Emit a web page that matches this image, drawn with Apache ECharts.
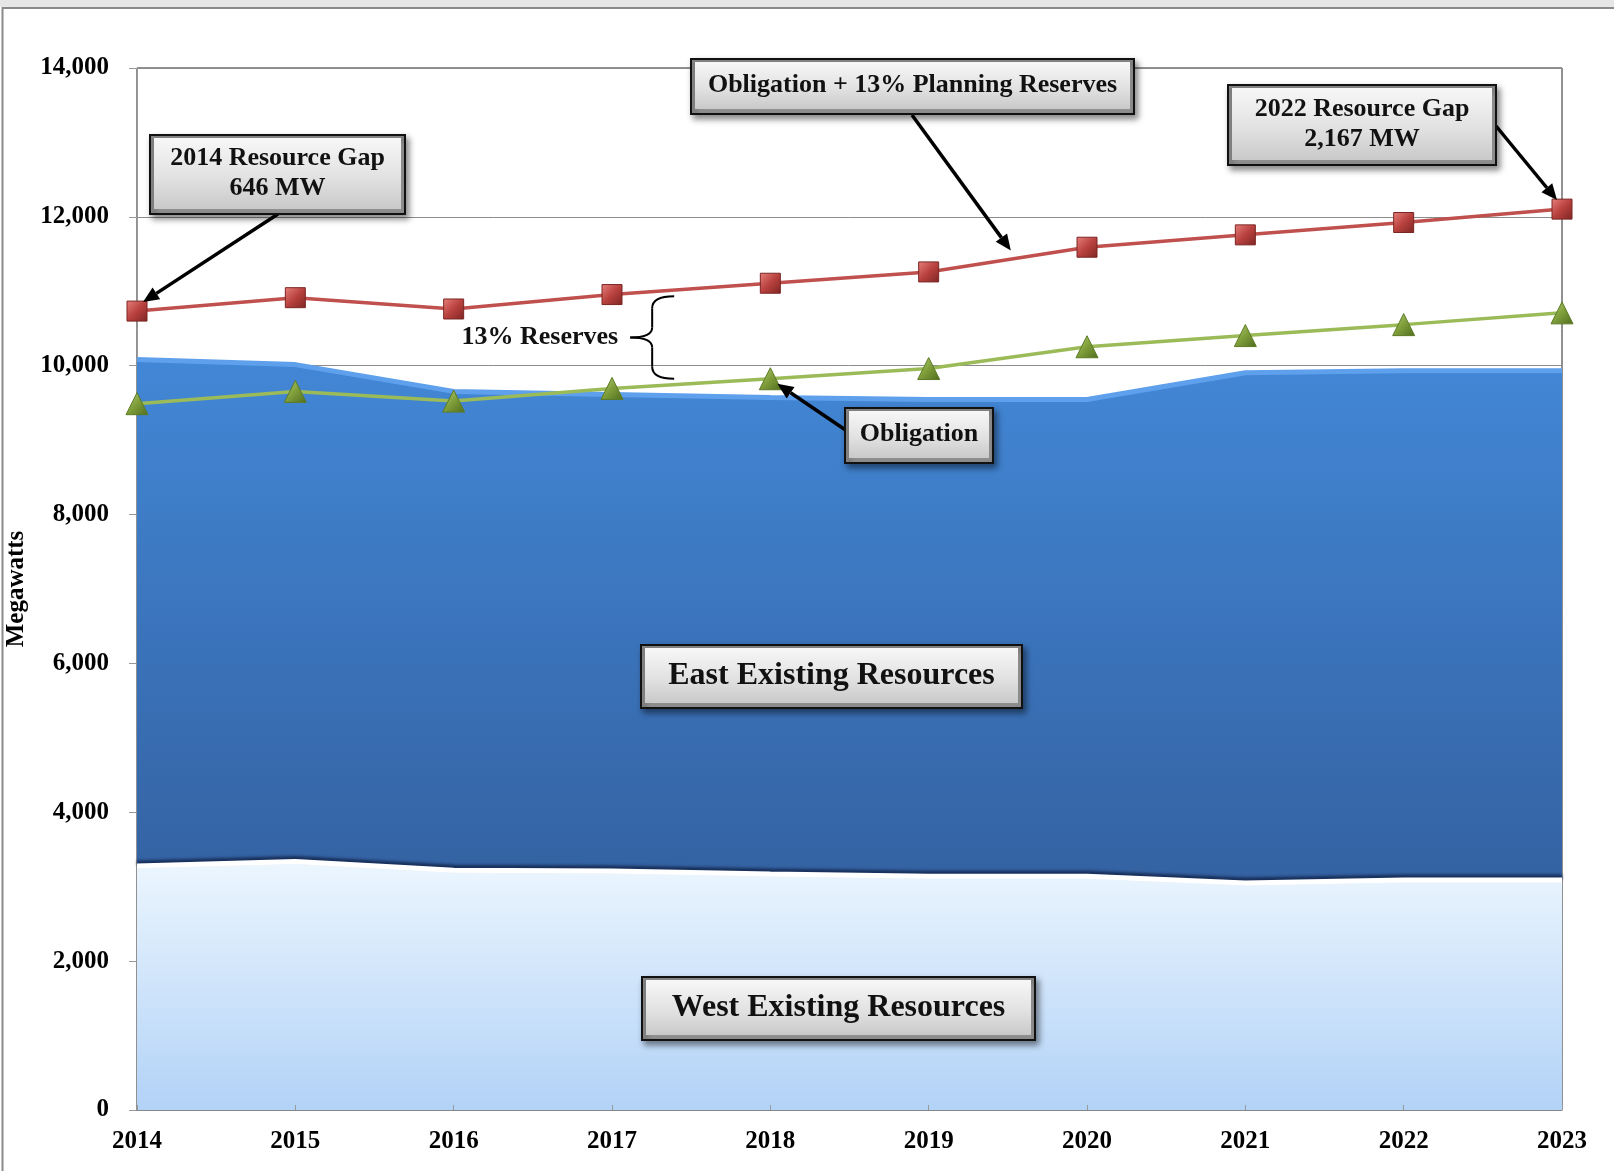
<!DOCTYPE html>
<html>
<head>
<meta charset="utf-8">
<script src="https://cdn.jsdelivr.net/npm/echarts@6/dist/echarts.min.js"></script>
<style>
html,body{margin:0;padding:0;background:#fff;}
#chart{width:1614px;height:1171px;}
</style>
</head>
<body>
<div id="chart"></div>
<script>
// ---- Data ----
const years = ['2014','2015','2016','2017','2018','2019','2020','2021','2022','2023'];
const westExisting = [3280, 3340, 3220, 3210, 3170, 3140, 3140, 3050, 3090, 3090];
const eastExisting = [6805, 6675, 6435, 6404, 6402, 6405, 6405, 6855, 6842, 6842];
const obligation = [9490, 9655, 9525, 9695, 9825, 9962, 10255, 10405, 10552, 10710];
const obligationPlusReserves = [10734, 10914, 10762, 10956, 11108, 11260, 11592, 11758, 11924, 12104];
const yMin = 0, yMax = 14000, yStep = 2000;

const FONT = 'Liberation Serif';
const chart = echarts.init(document.getElementById('chart'));
const LG = echarts.graphic.LinearGradient;

const option = {
  animation: false,
  backgroundColor: '#fff',
  grid: { left: 137, right: 52, top: 68, bottom: 61, show: true, borderColor: '#222', borderWidth: 1,
    containLabel: false, outerBoundsMode: 'none' },
  xAxis: {
    type: 'category', data: years, boundaryGap: false,
    axisLine: { lineStyle: { color: '#888', width: 1 } },
    axisTick: { show: true, inside: true, length: 5, lineStyle: { color: '#999' } },
    axisLabel: { fontFamily: FONT, fontWeight: 'bold', fontSize: 25, color: '#000', margin: 19 },
    splitLine: { show: false },
    z: 5
  },
  yAxis: {
    type: 'value', min: yMin, max: yMax, interval: yStep,
    name: 'Megawatts', nameLocation: 'middle', nameGap: 97, nameRotate: 90,
    nameTextStyle: { fontFamily: FONT, fontWeight: 'bold', fontSize: 25, color: '#000' },
    axisLine: { show: true, lineStyle: { color: '#999' } },
    axisTick: { show: true, length: 8, lineStyle: { color: '#999' } },
    axisLabel: { fontFamily: FONT, fontWeight: 'bold', fontSize: 25, color: '#000', margin: 28,
      formatter: v => v.toLocaleString('en-US') },
    splitLine: { show: true, lineStyle: { color: '#8c8c8c', width: 1 } }
  },
  series: [
    {
      name: 'West Existing Resources', type: 'line', stack: 'res', data: westExisting,
      symbol: 'none', z: 2,
      lineStyle: { color: '#ffffff', width: 5, shadowColor: 'rgba(20,40,80,0.9)', shadowBlur: 3, shadowOffsetY: -3 },
      areaStyle: { opacity: 1, color: new LG(0, 0, 0, 1, [
        { offset: 0, color: '#ecf6fe' }, { offset: 1, color: '#b2d2f7' }]) }
    },
    {
      name: 'East Existing Resources', type: 'line', stack: 'res', data: eastExisting,
      symbol: 'none', z: 1,
      lineStyle: { color: '#5fa0ec', width: 5 },
      areaStyle: { opacity: 1, color: new LG(0, 0, 0, 1, [
        { offset: 0, color: '#4287d6' }, { offset: 1, color: '#3462a2' }]) }
    },
    {
      name: 'Obligation', type: 'line', data: obligation, z: 4,
      symbol: 'triangle', symbolSize: [22, 22],
      lineStyle: { color: '#9bbb59', width: 3.5 },
      itemStyle: { color: new LG(0, 0, 1, 1, [
        { offset: 0, color: '#b2cf78' }, { offset: 0.5, color: '#7f9e3a' }, { offset: 1, color: '#4f6b1e' }]),
        borderColor: '#5c7a25', borderWidth: 1 }
    },
    {
      name: 'Obligation + 13% Planning Reserves', type: 'line', data: obligationPlusReserves, z: 4,
      symbol: 'rect', symbolSize: [20, 20],
      lineStyle: { color: '#c0504d', width: 3.5 },
      itemStyle: { color: new LG(0, 0, 1, 1, [
        { offset: 0, color: '#e8807c' }, { offset: 0.5, color: '#b8413e' }, { offset: 1, color: '#7e2523' }]),
        borderColor: '#7a2624', borderWidth: 1 }
    }
  ]
};
chart.setOption(option);

// ---- Annotations ----
function px(i, v) { return chart.convertToPixel({ gridIndex: 0 }, [i, v]); }
function pxAt(arr, f) {
  const i = Math.floor(f), t = f - i;
  const a = px(i, arr[i]), b = px(i + 1, arr[i + 1]);
  return [a[0] + (b[0] - a[0]) * t, a[1] + (b[1] - a[1]) * t];
}

function box(x, y, w, h, lines, fontSize, lineH) {
  const children = [
    { type: 'rect', z: 50, shape: { x: x, y: y, width: w, height: h },
      style: { fill: '#8f8f8f', stroke: '#111', lineWidth: 2, shadowBlur: 6, shadowOffsetX: 3, shadowOffsetY: 4, shadowColor: 'rgba(0,0,0,0.45)' } },
    { type: 'rect', z: 51, shape: { x: x + 4, y: y + 3, width: w - 8, height: h - 8 },
      style: { fill: new LG(0, 0, 0, 1, [{ offset: 0, color: '#f7f7f7' }, { offset: 0.55, color: '#e2e2e2' }, { offset: 1, color: '#c9c9c9' }]) } }
  ];
  const total = lines.length * lineH;
  lines.forEach((t, k) => {
    children.push({ type: 'text', z: 52, style: {
      text: t, x: x + w / 2, y: y + h / 2 - total / 2 + lineH * (k + 0.5) - 1,
      align: 'center', verticalAlign: 'middle',
      font: 'bold ' + fontSize + 'px "' + FONT + '"', fill: '#111' } });
  });
  return { type: 'group', z: 50, children: children };
}

function arrow(x1, y1, x2, y2) {
  const ang = Math.atan2(y2 - y1, x2 - x1);
  const hl = 16, hw = 7;
  const bx = x2 - hl * Math.cos(ang), by = y2 - hl * Math.sin(ang);
  const nx = -Math.sin(ang), ny = Math.cos(ang);
  return { type: 'group', z: 45, children: [
    { type: 'line', z: 45, shape: { x1: x1, y1: y1, x2: bx, y2: by }, style: { stroke: '#000', lineWidth: 3.5 } },
    { type: 'polygon', z: 45, shape: { points: [[x2, y2], [bx + nx * hw, by + ny * hw], [bx - nx * hw, by - ny * hw]] }, style: { fill: '#000' } }
  ] };
}

const p2014 = px(0, obligationPlusReserves[0]);
const p2023 = px(9, obligationPlusReserves[9]);
const pMid = pxAt(obligationPlusReserves, 5.5);
const pObl = px(4, obligation[4]);
const brTop = pxAt(obligationPlusReserves, 3.38);
const brBot = pxAt(obligation, 3.38);
const bx = brTop[0] + 2, bTop = brTop[1] + 6, bBot = brBot[1] - 6, bMid = (bTop + bBot) / 2;
const bc = bx - 22, bp = bx - 44;
const braceStyle = { fill: 'none', stroke: '#000', lineWidth: 2 };

chart.setOption({
  graphic: [
    { type: 'rect', z: 0, silent: true, shape: { x: 0, y: 0, width: 1614, height: 7 }, style: { fill: '#e6e6e6' } },
    { type: 'rect', z: 0, silent: true, shape: { x: 2.5, y: 8, width: 1640, height: 1200 }, style: { fill: 'none', stroke: '#8a8a8a', lineWidth: 2 } },

    arrow(278, 214, p2014[0] + 6, p2014[1] - 9),
    box(150, 135, 255, 79, ['2014 Resource Gap', '646 MW'], 26, 30),

    arrow(912, 115, pMid[0] + 3, pMid[1] - 9),
    box(691, 59, 443, 55, ['Obligation + 13% Planning Reserves'], 26, 30),

    arrow(1496, 126, p2023[0] - 5, p2023[1] - 9),
    box(1228, 85, 268, 80, ['2022 Resource Gap', '2,167 MW'], 26, 30),

    arrow(847, 431, pObl[0] + 7, pObl[1] + 5),
    box(845, 408, 148, 55, ['Obligation'], 26, 30),

    box(641, 645, 381, 63, ['East Existing Resources'], 32, 34),
    box(642, 977, 393, 63, ['West Existing Resources'], 32, 34),

    { type: 'text', z: 50, style: { text: '13% Reserves', x: bp - 12, y: bMid, align: 'right', verticalAlign: 'middle',
      font: 'bold 26px "' + FONT + '"', fill: '#111' } },
    { type: 'group', z: 50, children: [
      { type: 'bezierCurve', z: 50, shape: { x1: bx, y1: bTop, cpx1: bc, cpy1: bTop, x2: bc, y2: bTop + 12 }, style: braceStyle },
      { type: 'line', z: 50, shape: { x1: bc, y1: bTop + 12, x2: bc, y2: bMid - 10 }, style: braceStyle },
      { type: 'bezierCurve', z: 50, shape: { x1: bc, y1: bMid - 10, cpx1: bc, cpy1: bMid, x2: bp, y2: bMid }, style: braceStyle },
      { type: 'bezierCurve', z: 50, shape: { x1: bp, y1: bMid, cpx1: bc, cpy1: bMid, x2: bc, y2: bMid + 10 }, style: braceStyle },
      { type: 'line', z: 50, shape: { x1: bc, y1: bMid + 10, x2: bc, y2: bBot - 12 }, style: braceStyle },
      { type: 'bezierCurve', z: 50, shape: { x1: bc, y1: bBot - 12, cpx1: bc, cpy1: bBot, x2: bx, y2: bBot }, style: braceStyle }
    ] }
  ]
});
</script>
</body>
</html>
